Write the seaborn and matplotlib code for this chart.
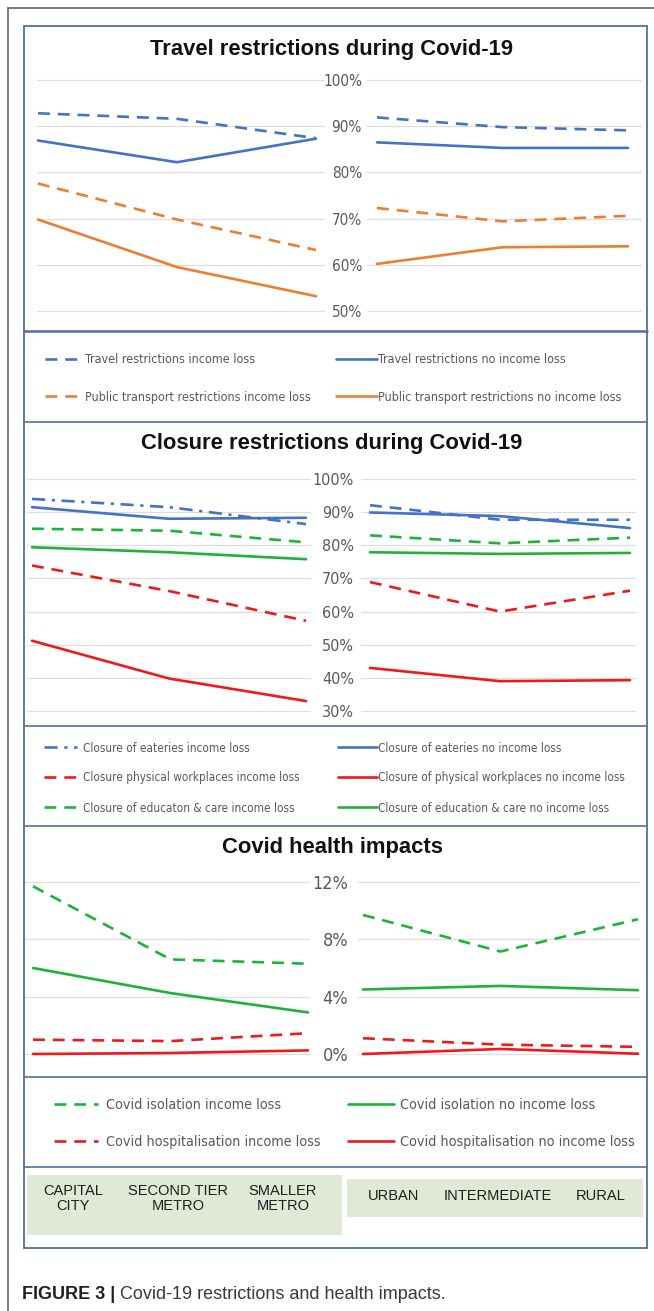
import matplotlib
matplotlib.use("Agg")
import matplotlib.pyplot as plt
import seaborn as sns
from matplotlib import font_manager
from matplotlib.font_manager import FontProperties
from matplotlib.patches import Rectangle
from matplotlib.lines import Line2D

# ---------------- data (first three values: metro categories, last three: area categories)
metro_labels = ["CAPITAL\nCITY", "SECOND TIER\nMETRO", "SMALLER\nMETRO"]
area_labels = ["URBAN", "INTERMEDIATE", "RURAL"]

travel_il = [92.8, 91.6, 87.4, 91.9, 89.8, 89.1]
travel_noil = [86.9, 82.2, 87.3, 86.5, 85.3, 85.3]
transport_il = [77.6, 69.8, 63.2, 72.3, 69.4, 70.6]
transport_noil = [69.8, 59.5, 53.2, 60.2, 63.8, 64.0]

eateries_il = [94.0, 91.5, 86.4, 92.1, 87.7, 87.7]
eateries_noil = [91.5, 88.0, 88.3, 89.9, 88.8, 85.2]
workplaces_il = [73.9, 66.2, 57.2, 68.9, 60.0, 66.3]
workplaces_noil = [51.2, 39.8, 33.0, 43.0, 39.0, 39.3]
education_il = [85.0, 84.4, 80.9, 83.0, 80.6, 82.3]
education_noil = [79.4, 77.9, 75.8, 77.9, 77.4, 77.7]

isolation_il = [11.7, 6.6, 6.3, 9.7, 7.15, 9.4]
isolation_noil = [6.0, 4.25, 2.9, 4.5, 4.75, 4.45]
hosp_il = [1.0, 0.9, 1.45, 1.1, 0.65, 0.5]
hosp_noil = [0.0, 0.07, 0.25, 0.0, 0.35, 0.02]

travel_ticks = [50, 60, 70, 80, 90, 100]
closure_ticks = [30, 40, 50, 60, 70, 80, 90, 100]
health_ticks = [0, 4, 8, 12]

titles = ["Travel restrictions during Covid-19",
          "Closure restrictions during Covid-19",
          "Covid health impacts"]

# ---------------- style
sns.set_style("white")
_names = {f.name for f in font_manager.fontManager.ttflist}
NARROW = "Liberation Sans Narrow" if "Liberation Sans Narrow" in _names else "DejaVu Sans"
STRETCH = "normal" if NARROW == "Liberation Sans Narrow" else "condensed"
plt.rcParams["font.family"] = [NARROW, "DejaVu Sans"]
plt.rcParams["font.stretch"] = STRETCH
SANS = ["Liberation Sans", "DejaVu Sans"]

BLUE, ORANGE, RED, GREEN = "#4472C4", "#ED7D31", "#F01818", "#1DB33A"
DASH = (0, (4.5, 3))
DASHDOT = (0, (5, 2.5, 1.2, 2.5))
LW = 1.9
GRID = "#dedede"
TICKC = "#595959"
FRAME = "#4f6fa0"

W, H = 654, 1311
fig = plt.figure(figsize=(W / 100, H / 100), dpi=100)
fig.patch.set_facecolor("white")


def px_axes(x0, x1, y0, y1):
    return fig.add_axes([x0 / W, 1 - y1 / H, (x1 - x0) / W, (y1 - y0) / H])


def fit_x(ax, x0, x1, c0, c2):
    s = 2.0 / (c2 - c0)
    ax.set_xlim(-(c0 - x0) * s, 2 + (x1 - c2) * s)


def fit_y(ax, y0, y1, v_top, p_top, v_bot, p_bot):
    s = (v_top - v_bot) / (p_bot - p_top)
    ax.set_ylim(v_bot - (y1 - p_bot) * s, v_top + (p_top - y0) * s)


def draw_chart(series, ticks, lbox, rbox, ybox, ymap, lc, rc, tick_fs, pad):
    out = []
    for side, (x0, x1), (c0, c2), cats, sl in [
        ("L", lbox, lc, metro_labels, slice(0, 3)),
        ("R", rbox, rc, area_labels, slice(3, 6)),
    ]:
        ax = px_axes(x0, x1, *ybox)
        ax.patch.set_visible(False)
        for vals, color, ls_l, ls_r, label in series:
            sns.lineplot(x=cats, y=vals[sl], ax=ax, color=color,
                         linestyle=ls_l if side == "L" else ls_r,
                         linewidth=LW, label=label if side == "L" else "_nolegend_",
                         legend=False, errorbar=None, sort=False, clip_on=False)
        fit_x(ax, x0, x1, c0, c2)
        fit_y(ax, ybox[0], ybox[1], *ymap)
        ax.set_yticks(ticks)
        ax.set_yticklabels([f"{t}%" for t in ticks])
        ax.grid(axis="y", color=GRID, lw=0.9)
        ax.grid(axis="x", visible=False)
        ax.set_axisbelow(True)
        for sp in ax.spines.values():
            sp.set_visible(False)
        ax.set_xlabel("")
        ax.set_ylabel("")
        ax.tick_params(axis="x", bottom=False, labelbottom=False)
        ax.tick_params(axis="y", length=0, pad=pad, labelsize=tick_fs,
                       labelcolor=TICKC, labelleft=(side == "R"))
        out.append(ax)
    return out


# ---------------- chart 1
series1 = [
    (travel_il, BLUE, DASH, DASH, "Travel restrictions income loss"),
    (transport_il, ORANGE, DASH, DASH, "Public transport restrictions income loss"),
    (travel_noil, BLUE, "-", "-", "Travel restrictions no income loss"),
    (transport_noil, ORANGE, "-", "-", "Public transport restrictions no income loss"),
]
ax1l, ax1r = draw_chart(series1, travel_ticks, (37, 325), (367, 642), (70, 320),
                        (100, 80, 50, 311), (38, 316), (377, 628), 11, 3.6)

# ---------------- chart 2
series2 = [
    (eateries_il, BLUE, DASHDOT, DASH, "Closure of eateries income loss"),
    (workplaces_il, RED, DASH, DASH, "Closure physical workplaces income loss"),
    (education_il, GREEN, DASH, DASH, "Closure of educaton & care income loss"),
    (eateries_noil, BLUE, "-", "-", "Closure of eateries no income loss"),
    (workplaces_noil, RED, "-", "-", "Closure of physical workplaces no income loss"),
    (education_noil, GREEN, "-", "-", "Closure of education & care no income loss"),
]
ax2l, ax2r = draw_chart(series2, closure_ticks, (27, 311), (361, 636), (470, 718),
                        (100, 479, 30, 711), (32, 306), (370, 630), 11.5, 5)

# ---------------- chart 3
series3 = [
    (isolation_il, GREEN, DASH, DASH, "Covid isolation income loss"),
    (hosp_il, RED, DASH, DASH, "Covid hospitalisation income loss"),
    (isolation_noil, GREEN, "-", "-", "Covid isolation no income loss"),
    (hosp_noil, RED, "-", "-", "Covid hospitalisation no income loss"),
]
ax3l, ax3r = draw_chart(series3, health_ticks, (23, 310), (358, 640), (875, 1065),
                        (12, 882, 0, 1054), (33, 308), (363, 638), 13, 7)

# ---------------- titles
for t, y in zip(titles, [49, 443, 847]):
    fig.text(332 / W, 1 - y / H, t, ha="center", va="center", fontsize=15.8,
             fontweight="bold", family=SANS, color="#111111")


# ---------------- legends
def add_legend(ax, idx, x, yc, fs, hl, htp, ls):
    h, l = ax.get_legend_handles_labels()
    leg = fig.legend([h[i] for i in idx], [l[i] for i in idx], loc="center left",
                     bbox_to_anchor=(x / W, 1 - yc / H), frameon=False, borderpad=0,
                     borderaxespad=0, handlelength=hl, handletextpad=htp,
                     labelspacing=ls, prop=FontProperties(family=NARROW, size=fs, stretch=STRETCH),
                     labelcolor=TICKC)
    return leg

add_legend(ax1l, [0, 1], 45, 378.5, 9.0, 2.8, 0.4, 1.94)
add_legend(ax1l, [2, 3], 336, 378.5, 9.0, 3.28, 0.05, 1.94)
add_legend(ax2l, [0, 1, 2], 44, 778, 8.5, 2.8, 0.5, 1.44)
add_legend(ax2l, [3, 4, 5], 338, 778, 8.5, 3.3, 0.05, 1.44)
add_legend(ax3l, [0, 1], 54, 1123.5, 10.3, 3.08, 0.56, 1.6)
add_legend(ax3l, [2, 3], 348, 1123.5, 10.3, 3.2, 0.42, 1.6)

# ---------------- category label boxes
PALE = "#dfe9d5"
for cats, (x0, x1, y0, y1), (c0, c2), yfrac in [
    (metro_labels, (27, 342, 1175, 1235), (73, 283), 0.61),
    (area_labels, (347, 643, 1179, 1217), (394, 601), 0.55),
]:
    axc = px_axes(x0, x1, y0, y1)
    axc.set_facecolor(PALE)
    fit_x(axc, x0, x1, c0, c2)
    axc.set_ylim(0, 1)
    axc.set_xticks([])
    axc.set_yticks([])
    for sp in axc.spines.values():
        sp.set_visible(False)
    for i, lab in enumerate(cats):
        axc.text(i, yfrac, lab, ha="center", va="center", fontsize=10.5,
                 family=SANS, color="#1e1e1e", linespacing=1.15)

# ---------------- frames
fig.add_artist(Rectangle((8 / W, 1 - 1400 / H), 700 / W, 1392 / H, transform=fig.transFigure,
                         fill=False, edgecolor="#707070", lw=1.3))
fig.add_artist(Rectangle((24 / W, 1 - 1248 / H), 623 / W, 1222 / H, transform=fig.transFigure,
                         fill=False, edgecolor=FRAME, lw=1.3))
for y, lw in [(331, 1.8), (422, 1.2), (726, 1.2), (826, 1.2), (1077, 1.2), (1167, 1.2)]:
    fig.add_artist(Line2D([24 / W, 647 / W], [1 - y / H, 1 - y / H], transform=fig.transFigure,
                          color=FRAME, lw=lw))

# ---------------- caption
ovl = fig.add_axes([0, 0, 1, 1])
ovl.axis("off")
ovl.set_xlim(0, W)
ovl.set_ylim(H, 0)
t1 = ovl.text(22, 1303, "FIGURE 3 |", fontsize=13, fontweight="bold", family=SANS,
              color="#231f20", va="bottom", ha="left")
ovl.annotate(" Covid-19 restrictions and health impacts.", xy=(1, 0), xycoords=t1,
             va="bottom", ha="left", fontsize=13, family=SANS, color="#3a3a3a")

fig.savefig("out.png", dpi=100, facecolor="white")
